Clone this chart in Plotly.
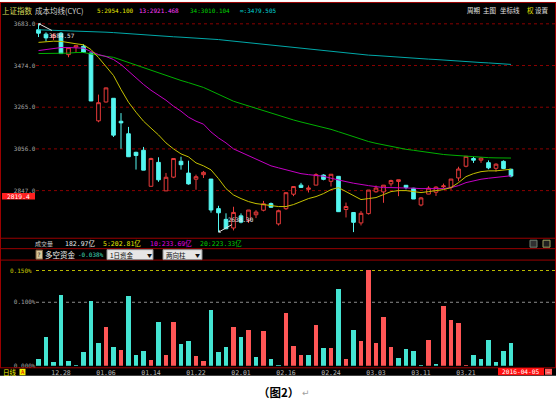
import plotly.graph_objects as go

W, H = 556, 411


def px(x):
    return x / W


def py(y):
    return 1 - y / H


# ---------------- data ----------------
dates = ["12.23", "12.24", "12.25", "12.28", "12.29", "12.30", "12.31",
         "01.04", "01.05", "01.06", "01.07", "01.08", "01.11", "01.12", "01.13", "01.14", "01.15",
         "01.18", "01.19", "01.20", "01.21", "01.22", "01.25", "01.26", "01.27", "01.28", "01.29",
         "02.01", "02.02", "02.03", "02.04", "02.05", "02.15", "02.16", "02.17", "02.18", "02.19",
         "02.22", "02.23", "02.24", "02.25", "02.26", "02.29",
         "03.01", "03.02", "03.03", "03.04", "03.07", "03.08", "03.09", "03.10", "03.11",
         "03.14", "03.15", "03.16", "03.17", "03.18", "03.21", "03.22", "03.23", "03.24", "03.25",
         "03.28", "03.29"]

open_ = [3653.3, 3631.3, 3614.1, 3635.8, 3528.4, 3566.7, 3570.5, 3536.6, 3196.7, 3291.2,
         3309.7, 3194.6, 3131.9, 3038.9, 3049.3, 2868.6, 2988.5, 2845.6, 2914.5, 2994.1,
         2934.7, 2904.0, 2926.8, 2904.7, 2756.6, 2702.8, 2659.5, 2720.4, 2697.9, 2725.9,
         2748.5, 2781.9, 2680.0, 2756.3, 2828.9, 2874.4, 2853.3, 2874.5, 2924.9, 2893.5,
         2918.5, 2752.2, 2737.3, 2685.0, 2731.5, 2841.0, 2840.4, 2880.8, 2893.0, 2873.6,
         2858.8, 2774.9, 2829.6, 2838.8, 2866.4, 2863.7, 2910.4, 2969.1, 3008.1, 2999.6,
         2986.9, 2958.7, 2993.6, 2954.1]
high = [3684.57, 3640.2, 3635.3, 3641.6, 3564.2, 3573.7, 3580.6, 3538.7, 3328.1, 3363.0,
        3309.7, 3235.5, 3166.2, 3041.8, 3065.9, 3011.9, 3014.0, 2935.5, 3008.9, 3016.9,
        2996.9, 2926.9, 2945.4, 2904.7, 2770.8, 2733.2, 2766.0, 2732.8, 2749.6, 2749.0,
        2795.4, 2787.2, 2751.5, 2837.0, 2868.4, 2885.8, 2872.9, 2934.0, 2928.5, 2928.9,
        2918.9, 2787.1, 2739.6, 2744.6, 2849.7, 2872.6, 2874.2, 2901.7, 2901.4, 2874.8,
        2860.7, 2815.0, 2869.0, 2868.7, 2882.1, 2904.8, 2966.6, 3018.8, 3016.5, 3015.2,
        2998.4, 2983.9, 2998.6, 2956.3]
low = [3616.7, 3595.0, 3601.7, 3533.3, 3515.5, 3538.4, 3538.4, 3295.7, 3189.6, 3288.9,
       3115.9, 3056.9, 3016.7, 2952.4, 2949.6, 2867.6, 2891.1, 2844.7, 2909.5, 2952.0,
       2876.6, 2851.3, 2910.1, 2736.3, 2638.30, 2653.7, 2647.4, 2683.0, 2684.5, 2709.1,
       2743.0, 2761.5, 2672.0, 2750.9, 2819.0, 2861.5, 2837.7, 2874.5, 2898.6, 2867.5,
       2740.4, 2712.4, 2639.0, 2672.3, 2726.8, 2836.9, 2785.9, 2867.5, 2819.1, 2853.4,
       2804.6, 2768.4, 2829.0, 2820.4, 2858.3, 2850.7, 2894.1, 2963.8, 2985.7, 2986.0,
       2953.9, 2942.2, 2954.6, 2913.6]
close = [3636.1, 3612.5, 3627.9, 3533.8, 3563.7, 3572.9, 3539.2, 3296.3, 3287.7, 3361.8,
         3125.0, 3186.4, 3016.7, 3022.9, 2949.6, 3007.7, 2901.0, 2913.8, 3007.7, 2976.7,
         2880.5, 2916.6, 2938.5, 2749.8, 2735.6, 2655.7, 2737.6, 2688.9, 2749.6, 2739.3,
         2781.0, 2763.5, 2746.2, 2836.6, 2867.3, 2862.9, 2860.0, 2927.2, 2903.3, 2928.9,
         2741.3, 2767.2, 2688.0, 2733.2, 2849.7, 2859.8, 2874.2, 2897.3, 2901.4, 2862.6,
         2804.7, 2810.3, 2859.5, 2864.4, 2870.4, 2904.8, 2955.2, 3018.8, 2999.4, 3010.0,
         2961.0, 2979.4, 2957.8, 2919.8]

cyc5 = [3590, 3593, 3596, 3595, 3588, 3583, 3578, 3554, 3514, 3469, 3424, 3354, 3290, 3240,
        3195, 3160, 3126, 3086, 3056, 3031, 3016, 2986, 2971, 2951, 2907, 2857, 2825, 2807,
        2792, 2782, 2777, 2772, 2767, 2767, 2777, 2792, 2807, 2817, 2832, 2852, 2862, 2842,
        2822, 2802, 2807, 2812, 2827, 2842, 2847, 2847, 2842, 2837, 2842, 2847, 2852, 2862,
        2887, 2917, 2932, 2942, 2946, 2946, 2951, 2954.1]
cyc13 = [3549, 3554, 3559, 3564, 3564, 3564, 3561, 3544, 3529, 3519, 3504, 3479, 3444, 3414,
         3379, 3350, 3325, 3300, 3270, 3245, 3215, 3195, 3180, 3141, 3111, 3086, 3056, 3039,
         3026, 3009, 2991, 2971, 2961, 2951, 2942, 2932, 2927, 2922, 2919, 2909, 2902, 2892,
         2884, 2877, 2872, 2867, 2862, 2862, 2862, 2862, 2859, 2857, 2857, 2857, 2857, 2862,
         2872, 2887, 2897, 2904, 2909, 2914, 2917, 2921.5]
cyc34 = [3534, 3534, 3534, 3536, 3536, 3539, 3539, 3532, 3525, 3520, 3515, 3502, 3489, 3476,
         3463, 3449, 3434, 3421, 3409, 3399, 3388, 3376, 3364, 3347, 3330, 3312, 3295, 3283,
         3271, 3259, 3248, 3236, 3224, 3212, 3201, 3191, 3182, 3173, 3163, 3154, 3142, 3129,
         3117, 3104, 3093, 3084, 3076, 3068, 3060, 3054, 3049, 3043, 3038, 3032, 3028, 3025,
         3022, 3020, 3017, 3014, 3012, 3011, 3010, 3010.1]
cyc_inf = [3653, 3652, 3651, 3650, 3649, 3648, 3647, 3645, 3643, 3641, 3639, 3636, 3634, 3631,
           3628, 3625, 3622, 3620, 3618, 3616, 3614, 3612, 3610, 3607, 3604, 3600, 3596, 3592,
           3588, 3584, 3581, 3577, 3573, 3569, 3565, 3561, 3557, 3553, 3549, 3545, 3541, 3537,
           3533, 3529, 3526, 3524, 3521, 3519, 3516, 3514, 3511, 3509, 3506, 3504, 3501, 3499,
           3497, 3494, 3492, 3489, 3487, 3484, 3482, 3479.5]

flow = [0.012, 0.046, 0.006, 0.112, 0.008, 0.002, 0.022, 0.102, 0.036, 0.061,
        0.031, 0.025, 0.110, 0.018, 0.024, 0.010, 0.069, 0.018, 0.069, 0.035,
        0.040, 0.016, 0.008, 0.088, 0.023, 0.031, 0.061, 0.046, 0.057, 0.015,
        0.055, 0.011, 0.002, 0.084, 0.032, 0.017, 0.017, 0.065, 0.029, 0.028,
        0.121, 0.011, 0.057, 0.040, 0.152, 0.036, 0.078, 0.031, 0.013, 0.027,
        0.024, 0.002, 0.042, 0.004, 0.095, 0.072, 0.068, 0.001, 0.018, 0.012,
        0.041, 0.006, 0.024, 0.037]
flow_dir = ["c", "c", "c", "c", "c", "c", "c", "c", "c", "r",
            "c", "r", "c", "c", "c", "r", "c", "r", "r", "c",
            "c", "r", "r", "c", "c", "c", "r", "c", "r", "c",
            "r", "c", "c", "r", "r", "r", "c", "r", "c", "r",
            "c", "r", "c", "r", "r", "r", "r", "r", "c", "c",
            "c", "c", "r", "c", "r", "r", "r", "r", "c", "c",
            "c", "c", "c", "c"]

price_ticks = [3683.0, 3474.0, 3265.0, 3056.0, 2847.0]
flow_ticks = [0.000, 0.100]
flow_top_tick = 0.150
date_ticks = ["12.28", "01.06", "01.14", "01.22", "02.01", "02.16", "02.24", "03.03", "03.11", "03.21"]
header_vals = [("5", 2954.100), ("13", 2921.468), ("34", 3010.104), ("∞", 3479.505)]
vol_texts = ["182.97亿", "5:202.81亿", "10:233.69亿", "20:223.33亿"]
flow_now = "-0.038%"
marker_price = 2819.4

# ---------------- styling ----------------
MONO = "DejaVu Sans Mono, Noto Sans CJK SC"
CJK = "Noto Sans CJK SC, DejaVu Sans"
RED = "#e83a3a"
CYAN = "#54f6f0"
BAR_RED = "#ff5656"
BAR_CYAN = "#44e4d2"
FRAME = "#9a0000"
GRID = "#8a0000"

n = len(dates)
xs = list(range(n))
tick_idx = [dates.index(d) for d in date_ticks]

# pixel geometry
STEP = 7.5
X0 = 38.5
xr = [-X0 / STEP, (W - X0) / STEP]
P_REF, Y_REF, P_PER_PX = 2847.0, 192.0, 4.976
p_top_px, p_bot_px = 17.0, 240.0
yr = [P_REF - (p_bot_px - Y_REF) * P_PER_PX, P_REF + (Y_REF - p_top_px) * P_PER_PX]
F_ZERO_PX, F_TOP_PX, F_PER_PX = 368.5, 262.5, 0.05 / 32.0
fr = [0, (F_ZERO_PX - F_TOP_PX) * F_PER_PX]

fig = go.Figure()
fig.add_trace(go.Candlestick(
    x=xs, open=open_, high=high, low=low, close=close,
    increasing=dict(line=dict(color=RED, width=1), fillcolor="black"),
    decreasing=dict(line=dict(color=CYAN, width=1), fillcolor=CYAN),
    whiskerwidth=0, showlegend=False, hoverinfo="skip", xaxis="x", yaxis="y"))
for vals, col in [(cyc_inf, "#00a8a8"), (cyc34, "#00b000"), (cyc13, "#c400c4"), (cyc5, "#c4c000")]:
    fig.add_trace(go.Scatter(x=xs, y=vals, mode="lines", line=dict(color=col, width=1),
                             showlegend=False, hoverinfo="skip", xaxis="x", yaxis="y"))
fig.add_trace(go.Bar(
    x=xs, y=flow, width=0.66,
    marker=dict(color=[BAR_RED if d == "r" else BAR_CYAN for d in flow_dir], line=dict(width=0)),
    showlegend=False, hoverinfo="skip", xaxis="x", yaxis="y2"))

shapes = []
# black screen area
shapes.append(dict(type="rect", xref="paper", yref="paper", x0=0, x1=1, y0=py(378.5), y1=py(2.5),
                   fillcolor="black", line=dict(width=0), layer="below"))
for v in price_ticks:
    shapes.append(dict(type="line", xref="paper", yref="y", x0=px(36), x1=1, y0=v, y1=v,
                       line=dict(color=GRID, width=1, dash="dot"), layer="below"))
shapes.append(dict(type="line", xref="paper", yref="y2", x0=px(36), x1=1, y0=flow_top_tick, y1=flow_top_tick,
                   line=dict(color="#b8b800", width=1, dash="dot"), layer="below"))
shapes.append(dict(type="line", xref="paper", yref="y2", x0=px(36), x1=1, y0=flow_ticks[1], y1=flow_ticks[1],
                   line=dict(color="#8c8c8c", width=1, dash="dot"), layer="below"))
# frame lines
for yy in [2.5, 240, 250.5, 262, 370.5]:
    shapes.append(dict(type="line", xref="paper", yref="paper", x0=0, x1=1, y0=py(yy), y1=py(yy),
                       line=dict(color=FRAME, width=1), layer="above"))
for xx in [0.5, 555.5]:
    shapes.append(dict(type="line", xref="paper", yref="paper", x0=px(xx), x1=px(xx), y0=py(370.5), y1=py(2.5),
                       line=dict(color=FRAME, width=1), layer="above"))


def rect(x0, x1, y0, y1, fill, line=None):
    shapes.append(dict(type="rect", xref="paper", yref="paper", x0=px(x0), x1=px(x1), y0=py(y1), y1=py(y0),
                       fillcolor=fill, line=dict(color=line or fill, width=1 if line else 0), layer="above"))


rect(2, 35, 194.5, 201, "#ff2020")            # current price marker
rect(36, 42.5, 252, 261, "#d8c89c", "#806040")  # ? icon
rect(107, 153, 251.5, 261.5, "#e6e6e6", "#909090")  # dropdown 1
rect(163, 202, 251.5, 261.5, "#e6e6e6", "#909090")  # dropdown 2
rect(19.5, 25.5, 371.5, 378, "#f0f000")       # A box
rect(498, 544, 370.8, 378, "#ff1010")         # date box
rect(545, 552, 371.5, 377.5, "#ff5a5a")
rect(530, 537, 242, 249, "#303030", "#708070")
rect(543, 550, 242, 249, "#202020", "#a0a060")

ann = []


def T(text, x, y, color, size, family=MONO, xanchor="left"):
    ann.append(dict(text=text, x=px(x), y=py(y), xref="paper", yref="paper", xanchor=xanchor,
                    yanchor="middle", showarrow=False, borderpad=0,
                    font=dict(family=family, size=size, color=color)))


# header row
T("上证指数", 1, 10.5, "#dada5a", 7.5, CJK)
T("成本均线(CYC)", 34, 10.5, "#d4d4d4", 7.5, CJK)
hx = [96, 138, 189, 239]
hcol = ["#e6e600", "#ff3cff", "#00d000", "#00d4d4"]
for (k, v), x, c in zip(header_vals, hx, hcol):
    T(f"{k}:{v:.3f}", x, 10.5, c, 6, MONO)
for t, x, c in [("周期", 466, "#e0e0e0"), ("主图", 482, "#e0e0e0"), ("坐标线", 499, "#e0e0e0"),
                ("权", 526, "#e6e600"), ("设置", 534, "#e0e0e0")]:
    T(t, x, 10, c, 6.5, CJK)

# volume row
T("成交量", 34, 245.5, "#c8c8c8", 6, CJK)
for t, x, c in zip(vol_texts, [64, 102, 149, 199], ["#e8e8e8", "#e6e600", "#e000e0", "#00c800"]):
    T(t, x, 245.5, c, 6.5, MONO)

# flow row
T("?", 39.3, 256.5, "#202020", 6, MONO, "center")
T("多空资金", 44, 256.5, "#f0f0f0", 7.5, CJK)
T(flow_now, 77, 256.5, "#40d8b8", 6, MONO)
T("1日资金", 109, 256.5, "#101010", 6.5, CJK)
T("▼", 149, 256.5, "#101010", 5, CJK, "center")
T("两向柱", 165, 256.5, "#101010", 6.5, CJK)
T("▼", 197, 256.5, "#101010", 5, CJK, "center")
T(f"{flow_top_tick:.3f}%", 33, 272.5, "#c8c800", 6, MONO, "right")

# price marker
T(f"{marker_price:.1f}", 18.5, 197.8, "#ffffff", 6.3, MONO, "center")

# bottom strip
T("日线", 1.5, 374.8, "#f0f000", 6.5, CJK)
T("A", 22.5, 374.8, "#e00000", 5.5, MONO, "center")
T("2016-04-05", 521, 374.6, "#ffffff", 6.2, MONO, "center")
T("—", 548.5, 374.3, "#ffffff", 5, MONO, "center")

# caption
ann.append(dict(text="<b>（图2）</b>", x=px(278), y=py(395), xref="paper", yref="paper",
                xanchor="center", yanchor="middle", showarrow=False,
                font=dict(family="Noto Sans CJK SC", size=11.5, color="#000000")))
T("↵", 301, 396, "#a0a0a0", 9, "DejaVu Sans")

# high / low labels with arrows
hi_i = high.index(max(high))
lo_i = low.index(min(low))
ann.append(dict(x=hi_i, y=high[hi_i], xref="x", yref="y", text=f"{high[hi_i]:.2f}", showarrow=True,
                ax=23, ay=12, arrowhead=1, arrowsize=0.6, arrowwidth=1, arrowcolor="#e0e0e0",
                font=dict(family=MONO, size=6, color="#e8e8e8")))
ann.append(dict(x=lo_i, y=low[lo_i], xref="x", yref="y", text=f"{low[lo_i]:.2f}", showarrow=True,
                ax=22, ay=-12.5, arrowhead=1, arrowsize=0.6, arrowwidth=1, arrowcolor="#e0e0e0",
                font=dict(family=MONO, size=6, color="#e8e8e8")))

fig.update_layout(
    width=W, height=H, margin=dict(l=0, r=0, t=0, b=0),
    paper_bgcolor="white", plot_bgcolor="rgba(0,0,0,0)", showlegend=False,
    bargap=0, hovermode=False,
    xaxis=dict(domain=[0, 1], range=xr, anchor="free", position=py(370.5),
               tickmode="array", tickvals=tick_idx, ticktext=date_ticks,
               tickfont=dict(family=MONO, size=6.5, color="#b4b4b4"),
               showgrid=False, zeroline=False, showline=False, ticks="",
               rangeslider=dict(visible=False), fixedrange=True),
    yaxis=dict(domain=[py(p_bot_px), py(p_top_px)], range=yr, anchor="free", position=px(35.5),
               tickmode="array", tickvals=price_ticks, ticktext=[f"{v:.1f}" for v in price_ticks],
               tickfont=dict(family=MONO, size=6, color="#a8a8a8"),
               showgrid=False, zeroline=False, showline=False, ticks="", fixedrange=True),
    yaxis2=dict(domain=[py(F_ZERO_PX), py(F_TOP_PX)], range=fr, anchor="free", position=px(35.5),
                tickmode="array", tickvals=flow_ticks, ticktext=[f"{v:.3f}%" for v in flow_ticks],
                tickfont=dict(family=MONO, size=6, color="#a0a0a0"),
                showgrid=False, zeroline=False, showline=False, ticks="", fixedrange=True),
    shapes=shapes, annotations=ann,
)

fig.write_html("out.html", config={"displayModeBar": False},
               post_script="document.body.style.margin='0px';document.body.style.overflow='hidden';")
